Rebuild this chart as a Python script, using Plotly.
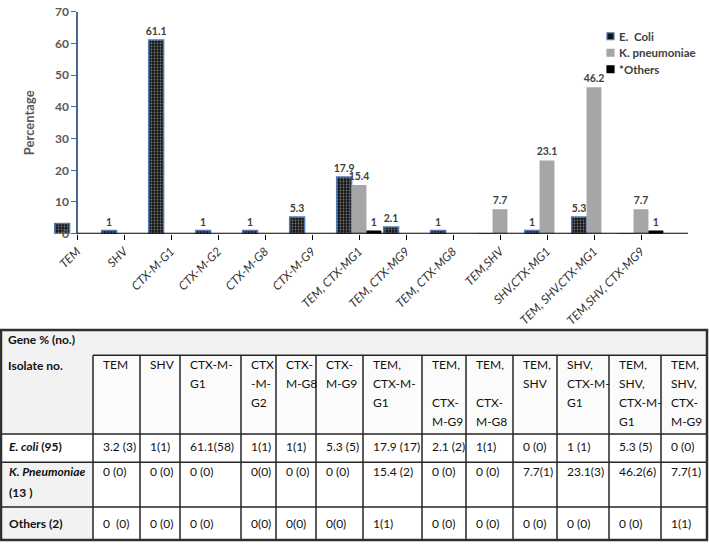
import plotly.graph_objects as go

# ---------------- DATA ----------------
categories = ["TEM", "SHV", "CTX-M-G1", "CTX-M-G2", "CTX-M-G8", "CTX-M-G9",
              "TEM, CTX-MG1", "TEM, CTX-MG9", "TEM, CTX-MG8", "TEM,SHV",
              "SHV,CTX-MG1", "TEM, SHV,CTX-MG1", "TEM,SHV, CTX-MG9"]
e_coli = [3.2, 1, 61.1, 1, 1, 5.3, 17.9, 2.1, 1, 0, 1, 5.3, 0]
k_pneumoniae = [0, 0, 0, 0, 0, 0, 15.4, 0, 0, 7.7, 23.1, 46.2, 7.7]
others = [0, 0, 0, 0, 0, 0, 1, 0, 0, 0, 0, 0, 1]
e_coli_labels = ["", "1", "61.1", "1", "1", "5.3", "17.9", "2.1", "1", "", "1", "5.3", ""]
k_labels = ["", "", "", "", "", "", "15.4", "", "", "7.7", "23.1", "46.2", "7.7"]
others_labels = ["", "", "", "", "", "", "1", "", "", "", "", "", "1"]
series_names = ["E.\u00a0 Coli", "K. pneumoniae", "*Others"]
y_ticks = [0, 10, 20, 30, 40, 50, 60, 70]

table_title = "Gene % (no.)"
table_corner = "Isolate no."
table_columns = ["TEM", "SHV", "CTX-M-<br>G1", "CTX<br>-M-<br>G2", "CTX-<br>M-G8",
                 "CTX-<br>M-G9", "TEM,<br>CTX-M-<br>G1", "TEM,<br><br>CTX-<br>M-G9",
                 "TEM,<br><br>CTX-<br>M-G8", "TEM,<br>SHV", "SHV,<br>CTX-M-<br>G1",
                 "TEM,<br>SHV,<br>CTX-M-<br>G1", "TEM,<br>SHV,<br>CTX-<br>M-G9"]
table_row_labels = ["<i>E. coli</i> (95)", "<i>K. Pneumoniae</i><br>(13 )", "Others (2)"]
e_coli_cells = ["3.2 (3)", "1(1)", "61.1(58)", "1(1)", "1(1)", "5.3 (5)", "17.9 (17)",
                "2.1 (2)", "1(1)", "0 (0)", "1 (1)", "5.3 (5)", "0 (0)"]
k_cells = ["0 (0)", "0 (0)", "0 (0)", "0(0)", "0 (0)", "0 (0)", "15.4 (2)",
           "0 (0)", "0 (0)", "7.7(1)", "23.1(3)", "46.2(6)", "7.7(1)"]
others_cells = ["0\u00a0 (0)", "0 (0)", "0 (0)", "0(0)", "0(0)", "0(0)", "1(1)",
                "0 (0)", "0 (0)", "0 (0)", "0 (0)", "0 (0)", "1(1)"]
table_cells = [e_coli_cells, k_cells, others_cells]

# ---------------- STYLE / LAYOUT HELPERS ----------------
W, H = 709, 550
FONT = "Lato"
series_fill = ["#151515", "#a6a6a6", "#000000"]
series_edge = ["#4f79b8", "#a6a6a6", "#000000"]


def fx(px):
    return px / W


def fy(py):
    return 1 - py / H


fig = go.Figure()

label_font = dict(family=FONT, size=10.5, color="#404040", weight="bold")
common = dict(textposition="outside", textfont=label_font, cliponaxis=False,
              constraintext="none", showlegend=False)
fig.add_trace(go.Bar(
    name=series_names[0], x=categories, y=e_coli, text=e_coli_labels, **common,
    marker=dict(color=series_fill[0],
                line=dict(color=series_edge[0], width=1.5),
                pattern=dict(shape=".", bgcolor=series_fill[0], fgcolor="#7a7a7a",
                             size=3, solidity=0.3, fillmode="replace")),
))
fig.add_trace(go.Bar(
    name=series_names[1], x=categories, y=k_pneumoniae, text=k_labels, **common,
    marker=dict(color=series_fill[1], line=dict(width=0)),
))
fig.add_trace(go.Bar(
    name=series_names[2], x=categories, y=others, text=others_labels, **common,
    marker=dict(color=series_fill[2], line=dict(width=0)),
))

# chart geometry (pixels)
y_axis_px = 77
cat_px = 47.0
plot_left, plot_right = 51, 688
plot_top, plot_bottom = 4, 232

x_lo = (plot_left - y_axis_px) / cat_px
x_hi = (plot_right - y_axis_px) / cat_px

fig.update_layout(
    width=W, height=H,
    margin=dict(l=0, r=0, t=0, b=0),
    paper_bgcolor="white", plot_bgcolor="white",
    barmode="group", bargap=0.05, bargroupgap=0,
    font=dict(family=FONT, color="#404040"),
    xaxis=dict(domain=[fx(plot_left), fx(plot_right)], range=[x_lo, x_hi],
               type="category", showline=False, showgrid=False, zeroline=False,
               ticks="outside", ticklen=5, tickcolor="#000", tickwidth=1.3,
               tickangle=-45,
               tickfont=dict(family=FONT, size=12, color="#333333", style="italic")),
    yaxis=dict(domain=[fy(plot_bottom), fy(plot_top)], range=[0, 70],
               anchor="free", position=fx(y_axis_px),
               tickvals=y_ticks, showgrid=False, zeroline=False,
               ticklabeloverflow="allow",
               showline=True, linecolor="#4a6796", linewidth=1.5,
               ticks="outside", ticklen=5, tickcolor="#4a6796", tickwidth=1.3,
               tickfont=dict(family=FONT, size=12, color="#595959", weight="bold"),
               title=dict(text="Percentage", standoff=16,
                          font=dict(family=FONT, size=13, color="#595959", weight="bold"))),
    showlegend=False,
)

shapes = []
annotations = []

# x axis line from the y axis to the right end
shapes.append(dict(type="line", xref="x", yref="y", x0=0, x1=x_hi, y0=0, y1=0,
                   line=dict(color="#000", width=2), layer="above"))

# ---------------- LEGEND (compact, as in the reference) ----------------
legend_x, legend_y0, legend_dy, sym = 607, 29, 17, 7
for i, name in enumerate(series_names):
    cy = legend_y0 + i * legend_dy
    shapes.append(dict(type="rect", xref="paper", yref="paper",
                       x0=fx(legend_x), x1=fx(legend_x + sym),
                       y0=fy(cy + sym / 2), y1=fy(cy - sym / 2),
                       fillcolor=series_fill[i],
                       line=dict(color=series_edge[i], width=1.2)))
    annotations.append(dict(text=name, xref="paper", yref="paper",
                            x=fx(legend_x + sym + 3), y=fy(cy), xanchor="left",
                            yanchor="middle", showarrow=False,
                            font=dict(family=FONT, size=11.5, color="#404040",
                                      weight="bold")))

# ---------------- TABLE (drawn with shapes + annotations) ----------------
col_edges = [0, 93, 140, 180, 241, 276, 316, 363, 422, 466, 513, 557, 609, 661, 707]
t_top, hdr_top, hdr_bot = 331, 357, 438
row_edges = [438, 467, 513, 547]
row_text_y = [451, 477, 530]
line_col = "#262626"

shapes.append(dict(type="rect", xref="paper", yref="paper",
                   x0=fx(1), x1=fx(707), y0=fy(547), y1=fy(t_top),
                   fillcolor="#f2f2f2", line=dict(width=0), layer="below"))
shapes.append(dict(type="rect", xref="paper", yref="paper",
                   x0=fx(col_edges[1]), x1=fx(707), y0=fy(hdr_bot), y1=fy(hdr_top),
                   fillcolor="#fbfbfb", line=dict(width=0), layer="below"))
shapes.append(dict(type="rect", xref="paper", yref="paper",
                   x0=fx(col_edges[1]), x1=fx(707), y0=fy(547), y1=fy(hdr_bot),
                   fillcolor="#ffffff", line=dict(width=0), layer="below"))
shapes.append(dict(type="rect", xref="paper", yref="paper",
                   x0=fx(1), x1=fx(col_edges[1]), y0=fy(row_edges[1]), y1=fy(row_edges[0]),
                   fillcolor="#ffffff", line=dict(width=0), layer="below"))
shapes.append(dict(type="line", xref="paper", yref="paper",
                   x0=fx(col_edges[1]), x1=fx(707), y0=fy(hdr_top), y1=fy(hdr_top),
                   line=dict(color=line_col, width=1.5)))
for ry in row_edges[:-1]:
    shapes.append(dict(type="line", xref="paper", yref="paper",
                       x0=fx(0), x1=fx(707), y0=fy(ry), y1=fy(ry),
                       line=dict(color=line_col, width=1.5)))
for cx in col_edges[1:-1]:
    shapes.append(dict(type="line", xref="paper", yref="paper",
                       x0=fx(cx), x1=fx(cx), y0=fy(hdr_top), y1=fy(547),
                       line=dict(color=line_col, width=1.5)))
shapes.append(dict(type="rect", xref="paper", yref="paper",
                   x0=fx(1), x1=fx(707), y0=fy(547), y1=fy(t_top),
                   line=dict(color="#303030", width=2.5)))


def txt(text, px, py, bold=False, size=12):
    annotations.append(dict(
        text=f"<b>{text}</b>" if bold else text, xref="paper", yref="paper",
        x=fx(px), y=fy(py), xanchor="left", yanchor="middle", showarrow=False,
        font=dict(family=FONT, size=size, color="#111111")))


txt(table_title, 6, 341, bold=True)
txt(table_corner, 6, 368, bold=True)
for i, head in enumerate(table_columns):
    for j, line in enumerate(head.split("<br>")):
        if line:
            txt(line, col_edges[i + 1] + 8, 367 + j * 19.5)
for r, label in enumerate(table_row_labels):
    for j, line in enumerate(label.split("<br>")):
        txt(line, 7, row_text_y[r] + j * 21, bold=True)
    for i, cell in enumerate(table_cells[r]):
        txt(cell, col_edges[i + 1] + 8, row_text_y[r])

fig.update_layout(shapes=shapes, annotations=annotations)
fig.write_html(
    "out.html",
    config={"displayModeBar": False},
    post_script="document.body.style.margin='0';document.body.style.overflow='hidden';",
)
